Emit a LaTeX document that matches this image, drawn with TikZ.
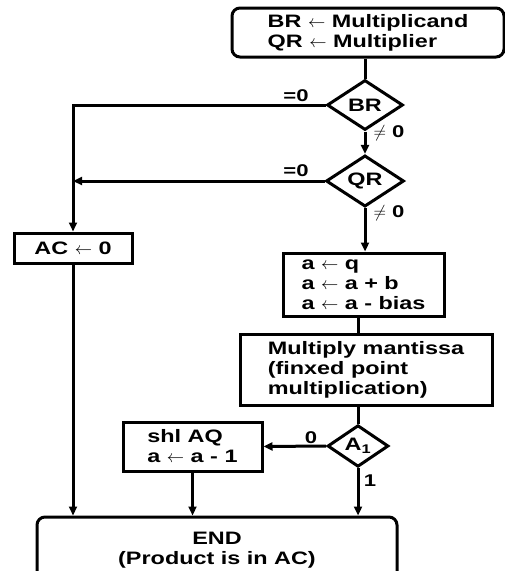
\documentclass[tikz,border=0pt]{standalone}
\usepackage{fontspec}
\setmainfont{Liberation Sans}[FakeStretch=1.3]
\usetikzlibrary{arrows.meta, shapes.geometric}
\tikzset{
  every picture/.style={line width=3pt},
  box/.style={draw, rectangle, align=left, inner sep=0pt, font=\fontsize{18}{20}\selectfont\bfseries},
  termbox/.style={box, rounded corners=8pt},
  decision/.style={draw, diamond, inner sep=0pt, font=\fontsize{18}{20}\selectfont\bfseries},
  arrow/.style={-{Triangle[length=9pt, width=8pt]}},
  note/.style={font=\fontsize{17}{20}\selectfont\bfseries, inner sep=0pt},
}

\begin{document}
\begin{tikzpicture}[x=1pt, y=-1pt]
  \useasboundingbox (0,0) rectangle (505,571);
  % load operands and test for zero
  \node[termbox, minimum width=272pt, minimum height=49pt] (start) at (368,32.5)
    {BR $\leftarrow$ Multiplicand\\QR $\leftarrow$ Multiplier};
  \node[decision, minimum width=76pt, minimum height=50pt] (br) at (365,105) {BR};
  \node[decision, minimum width=78pt, minimum height=50pt] (qr) at (365,181) {QR};
  \node[box, minimum width=118pt, minimum height=30pt] (ac) at (73,248) {AC $\leftarrow$ 0};
  \node[note] (brzero) at (296,96) {=0};
  \node[note] (brnz) at (389,133) {$\neq$ 0};
  \node[note] (qrzero) at (296,171) {=0};
  \node[note] (qrnz) at (389,213) {$\neq$ 0};
  % exponent and mantissa
  \node[box, minimum width=161pt, minimum height=63pt] (abox) at (363.5,284.5)
    {a $\leftarrow$ q\\a $\leftarrow$ a + b\\a $\leftarrow$ a - bias};
  \node[box, minimum width=252pt, minimum height=71pt] (mant) at (366,369.5)
    {Multiply mantissa\\(finxed point\\multiplication)};
  \node[decision, minimum width=61pt, minimum height=38pt] (a1) at (358,446) {A\textsubscript{1}};
  \node[box, minimum width=139pt, minimum height=49pt] (shl) at (192.5,446.5)
    {shl AQ\\a $\leftarrow$ a - 1};
  \node[note] (azero) at (311,438) {0};
  \node[note] (aone) at (370,481) {1};
  \node[termbox, align=center, minimum width=360pt, minimum height=66pt] (end) at (217,550)
    {END\\(Product is in AC)};

  \draw (start.south -| br) -- (br.north);
  \draw[arrow] (br.west) -| (ac.north);
  \draw[arrow] (br.south) -- (qr.north);
  \draw[arrow] (qr.west) -- (qr.west -| ac.north);
  \draw[arrow] (qr.south) -- (qr.south |- abox.north);
  \draw (abox.south -| a1) -- (mant.north -| a1);
  \draw (mant.south -| a1) -- (a1.north);
  \draw[arrow] (a1.west) -- (shl.east);
  \draw[arrow] (a1.south) -- (a1.south |- end.north);
  \draw[arrow] (shl.south) -- (shl.south |- end.north);
  \draw[arrow] (ac.south) -- (ac.south |- end.north);
\end{tikzpicture}
\end{document}
